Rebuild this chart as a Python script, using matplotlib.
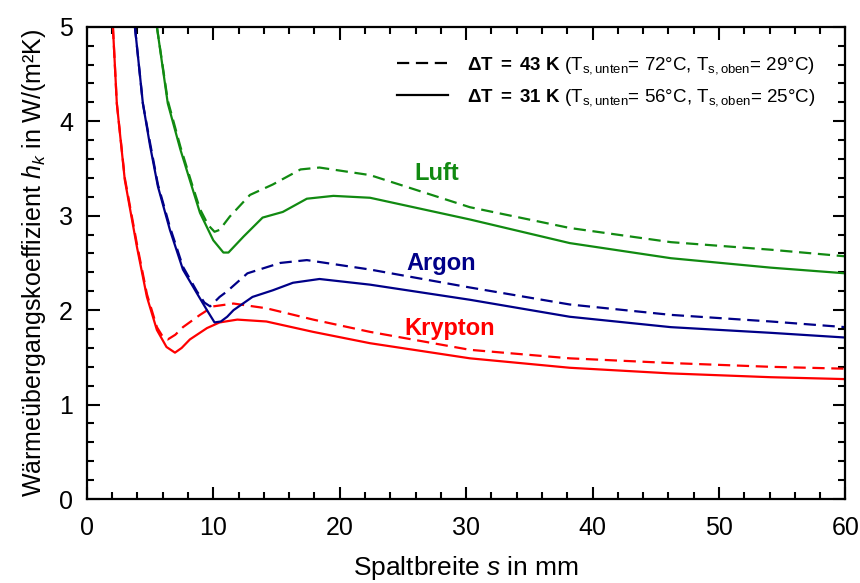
import matplotlib
matplotlib.use('Agg')
import matplotlib.pyplot as plt
from matplotlib.lines import Line2D
from matplotlib.ticker import MultipleLocator

plt.rcParams['font.family'] = ['Liberation Sans', 'DejaVu Sans']
plt.rcParams['mathtext.fontset'] = 'custom'
plt.rcParams['mathtext.rm'] = 'Liberation Sans'
plt.rcParams['mathtext.it'] = 'Liberation Sans:italic'
plt.rcParams['mathtext.bf'] = 'Liberation Sans:bold'

# Krypton
kr31_s = [2.06, 2.37, 3.0, 3.96, 4.75, 5.54, 6.3, 6.97, 7.5, 8.15, 9.5, 10.5, 11.9, 14.2, 17.9, 22.4, 30.3, 38.2, 46.2, 54.1, 60]
kr31_h = [5.0, 4.19, 3.38, 2.67, 2.14, 1.79, 1.61, 1.55, 1.60, 1.69, 1.81, 1.87, 1.90, 1.88, 1.77, 1.65, 1.49, 1.39, 1.33, 1.29, 1.27]
kr43_s = [2.06, 2.37, 3.0, 3.96, 4.75, 5.54, 6.0, 6.4, 7.0, 7.6, 8.95, 10.0, 11.6, 14.2, 17.9, 22.4, 30.3, 38.2, 46.2, 54.1, 60]
kr43_h = [5.0, 4.19, 3.40, 2.70, 2.17, 1.82, 1.72, 1.69, 1.74, 1.82, 1.95, 2.04, 2.07, 2.02, 1.90, 1.77, 1.58, 1.49, 1.44, 1.40, 1.38]

# Argon
ar31_s = [3.8, 4.43, 5.0, 5.62, 6.57, 7.6, 8.7, 9.5, 10.1, 10.6, 11.1, 11.6, 13.1, 14.7, 16.3, 18.4, 22.4, 30.3, 38.2, 46.2, 54.1, 60]
ar31_h = [5.0, 4.19, 3.74, 3.31, 2.85, 2.43, 2.18, 2.0, 1.87, 1.88, 1.93, 2.0, 2.14, 2.21, 2.29, 2.33, 2.27, 2.11, 1.93, 1.82, 1.76, 1.71]
ar43_s = [3.8, 4.43, 5.0, 5.62, 6.57, 7.6, 8.7, 9.3, 9.75, 10.5, 11.1, 12.7, 15.3, 17.4, 22.4, 30.3, 38.2, 46.2, 54.1, 60]
ar43_h = [5.0, 4.19, 3.77, 3.33, 2.88, 2.46, 2.20, 2.08, 2.04, 2.14, 2.20, 2.39, 2.50, 2.53, 2.43, 2.24, 2.06, 1.95, 1.88, 1.82]

# Luft
lu31_s = [5.54, 6.4, 7.4, 8.3, 8.95, 10.0, 10.8, 11.2, 12.4, 13.9, 15.5, 17.4, 19.5, 22.4, 30.3, 38.2, 46.2, 54.1, 60]
lu31_h = [5.0, 4.19, 3.70, 3.31, 3.03, 2.74, 2.61, 2.61, 2.78, 2.98, 3.04, 3.18, 3.21, 3.19, 2.96, 2.71, 2.55, 2.45, 2.39]
lu43_s = [5.54, 6.4, 7.4, 8.3, 8.95, 9.6, 10.1, 10.5, 11.3, 12.9, 14.7, 16.9, 18.4, 22.4, 30.3, 38.2, 46.2, 54.1, 60]
lu43_h = [5.0, 4.22, 3.73, 3.34, 3.07, 2.90, 2.83, 2.85, 2.99, 3.22, 3.33, 3.49, 3.51, 3.43, 3.09, 2.87, 2.72, 2.64, 2.57]

red = '#ff0000'
blue = '#000088'
green = '#118a11'
dash = (0, (5.5, 3))

fig = plt.figure(figsize=(8.6, 5.83), dpi=100)
ax = fig.add_axes([0.101, 0.144, 0.882, 0.81])

ax.plot(kr43_s, kr43_h, color=red, lw=1.6, linestyle=dash)
ax.plot(kr31_s, kr31_h, color=red, lw=1.6)
ax.plot(ar43_s, ar43_h, color=blue, lw=1.6, linestyle=dash)
ax.plot(ar31_s, ar31_h, color=blue, lw=1.6)
ax.plot(lu43_s, lu43_h, color=green, lw=1.6, linestyle=dash)
ax.plot(lu31_s, lu31_h, color=green, lw=1.6)

ax.text(27.7, 3.38, 'Luft', color=green, fontsize=17, fontweight='bold', ha='center', va='baseline')
ax.text(28.0, 2.43, 'Argon', color=blue, fontsize=17, fontweight='bold', ha='center', va='baseline')
ax.text(28.7, 1.74, 'Krypton', color=red, fontsize=17, fontweight='bold', ha='center', va='baseline')

ax.set_xlim(0, 60)
ax.set_ylim(0, 5)
ax.xaxis.set_major_locator(MultipleLocator(10))
ax.xaxis.set_minor_locator(MultipleLocator(2))
ax.yaxis.set_major_locator(MultipleLocator(1))
ax.yaxis.set_minor_locator(MultipleLocator(0.2))
ax.tick_params(which='both', direction='in', top=True, right=True, width=1.5, labelsize=18)
ax.tick_params(which='major', length=9)
ax.tick_params(which='minor', length=5)
ax.tick_params(axis='x', which='major', pad=12)
ax.tick_params(axis='y', which='major', pad=10)
for sp in ax.spines.values():
    sp.set_linewidth(1.6)

ax.set_xlabel('Spaltbreite $s$ in mm', fontsize=19, labelpad=10)
ax.set_ylabel('Wärmeübergangskoeffizient $h_k$ in W/(m²K)', fontsize=18, labelpad=8)

handles = [Line2D([], [], color='black', lw=1.6, linestyle=(0, (5.5, 3))),
           Line2D([], [], color='black', lw=1.6)]
labels = [r'$\mathbf{\Delta T\ =\ 43\ K}$ (T$_{\mathrm{s,unten}}$= 72°C, T$_{\mathrm{s,oben}}$= 29°C)',
          r'$\mathbf{\Delta T\ =\ 31\ K}$ (T$_{\mathrm{s,unten}}$= 56°C, T$_{\mathrm{s,oben}}$= 25°C)']
ax.legend(handles, labels, loc='upper right', frameon=False, fontsize=13.5,
          handlelength=2.7, handletextpad=1.0, labelspacing=0.55,
          bbox_to_anchor=(0.982, 0.975))

fig.savefig('out.png', dpi=100)
